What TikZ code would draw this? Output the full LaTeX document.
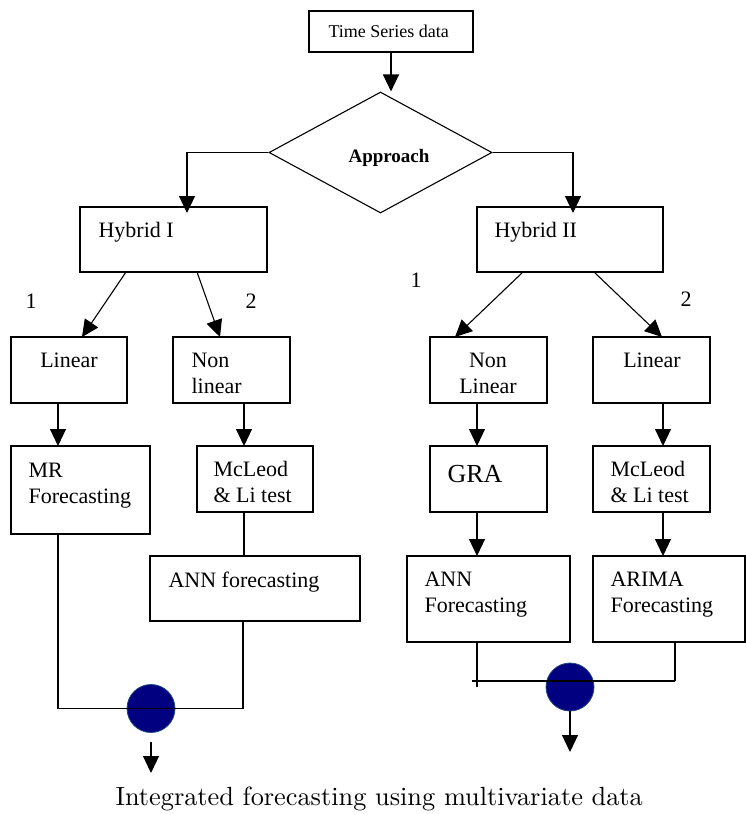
\documentclass[tikz,border=0pt]{standalone}
\usepackage{fontspec}
\newfontfamily\tnr{Liberation Serif}
\newfontfamily\capfont{lmroman10-regular}[Extension=.otf]
\usetikzlibrary{arrows.meta,shapes.geometric}

\definecolor{dotfill}{RGB}{0,0,128}
\definecolor{dotline}{RGB}{31,73,125}

\begin{document}
\begin{tikzpicture}[x=1pt,y=-1pt,line width=1.1pt,
    box/.style={draw,rectangle,inner sep=0pt,outer sep=0pt},
    txt/.style={inner sep=0pt,anchor=base west,align=left,font=\tnr\fontsize{22}{26}\selectfont},
    ctxt/.style={txt,anchor=base,align=center},
    arr/.style={-{Triangle[length=17pt,width=16pt]}},
    joindot/.style={circle,draw=dotline,fill=dotfill,line width=0.8pt,minimum size=48pt,inner sep=0pt}]
\useasboundingbox (0,0) rectangle (746,814);

% boxes
\node [box, minimum width=164pt, minimum height=41pt] (ts) at (391,31.5) {};
\node [diamond, draw, inner sep=0pt, minimum width=223pt, minimum height=121pt] (appr) at (380.5,152.5) {};
\node [box, minimum width=187pt, minimum height=65pt] (hyb1) at (173.5,239.5) {};
\node [box, minimum width=186pt, minimum height=65pt] (hyb2) at (570,239.5) {};
\node [box, minimum width=116pt, minimum height=66pt] (lin1) at (69,370) {};
\node [box, minimum width=117pt, minimum height=66pt] (nl1) at (231.5,370) {};
\node [box, minimum width=117pt, minimum height=66pt] (nl2) at (488.5,370) {};
\node [box, minimum width=117pt, minimum height=66pt] (lin2) at (651.5,370) {};
\node [box, minimum width=139pt, minimum height=88pt] (mr) at (80.5,490) {};
\node [box, minimum width=116pt, minimum height=66pt] (mcl1) at (255,479) {};
\node [box, minimum width=117pt, minimum height=66pt] (gra) at (488.5,479) {};
\node [box, minimum width=117pt, minimum height=66pt] (mcl2) at (651.5,479) {};
\node [box, minimum width=210pt, minimum height=65pt] (ann1) at (255,588.5) {};
\node [box, minimum width=163pt, minimum height=86pt] (ann2) at (488.5,599) {};
\node [box, minimum width=152pt, minimum height=86pt] (arima) at (669,599) {};

% joining dots
\node [joindot] (jn1) at (151,708.5) {};
\node [joindot] (jn2) at (570,687) {};
\coordinate (out1) at (151,773);
\coordinate (out2) at (570,752);
\coordinate (brl) at (472,681);
\coordinate (brr) at (675,681);

% texts
\node [txt, font=\tnr\fontsize{18}{22}\selectfont] (tstxt) at (328,37) {Time Series data};
\node [txt, font=\tnr\bfseries\fontsize{19}{22}\selectfont] (apprtxt) at (348,162) {Approach};
\node [txt] (hyb1txt) at (98,237) {Hybrid I};
\node [txt] (hyb2txt) at (494,237) {Hybrid II};
\node [ctxt] (lin1txt) at (69,367) {Linear};
\node [txt] (nl1txt) at (191,393) {Non\\linear};
\node [ctxt] (nl2txt) at (488,393) {Non\\Linear};
\node [ctxt] (lin2txt) at (652,367) {Linear};
\node [txt] (mrtxt) at (28,503) {MR\\Forecasting};
\node [txt] (mcl1txt) at (213,502) {McLeod\\\& Li test};
\node [txt, font=\tnr\fontsize{26}{30}\selectfont] (gratxt) at (447,482) {GRA};
\node [txt] (mcl2txt) at (610,502) {McLeod\\\& Li test};
\node [txt] (ann1txt) at (168,587) {ANN forecasting};
\node [txt] (ann2txt) at (424,612) {ANN\\Forecasting};
\node [txt] (arimatxt) at (610,612) {ARIMA\\Forecasting};

\node [txt] (n1a) at (25,308) {1};
\node [txt] (n2a) at (245,308) {2};
\node [txt] (n1b) at (410,287) {1};
\node [txt] (n2b) at (680,306) {2};

\node [inner sep=0pt, anchor=base west, font=\capfont\fontsize{26.3}{30}\selectfont] (capt) at (115,805) {Integrated forecasting using multivariate data};

% connectors
\draw [arr] (ts.south) -- (ts.south |- appr.north);
\draw [arr, shorten >=-6pt] (appr.west) -| ([xshift=107pt]hyb1.north west);
\draw [arr, shorten >=-6pt] (appr.east) -| ([xshift=96pt]hyb2.north west);

\draw [arr] ([xshift=46pt]hyb1.south west) -- ([xshift=71pt]lin1.north west);
\draw [arr] ([xshift=117pt]hyb1.south west) -- ([xshift=47pt]nl1.north west);
\draw [arr] ([xshift=46pt]hyb2.south west) -- ([xshift=25pt]nl2.north west);
\draw [arr] ([xshift=117pt]hyb2.south west) -- ([xshift=69pt]lin2.north west);

\draw [arr] ([xshift=47pt]lin1.south west) -- ([xshift=47pt]lin1.south west |- mr.north);
\draw [arr] ([xshift=71pt]nl1.south west) -- ([xshift=71pt]nl1.south west |- mcl1.north);
\draw ([xshift=47pt]mcl1.south west) -- ([xshift=47pt]mcl1.south west |- ann1.north);
\draw [arr] ([xshift=47pt]nl2.south west) -- ([xshift=47pt]nl2.south west |- gra.north);
\draw [arr] ([xshift=70pt]lin2.south west) -- ([xshift=70pt]lin2.south west |- mcl2.north);
\draw [arr] ([xshift=47pt]gra.south west) -- ([xshift=47pt]gra.south west |- ann2.north);
\draw [arr] ([xshift=70pt]mcl2.south west) -- ([xshift=70pt]mcl2.south west |- arima.north);

% left join
\draw ([xshift=47pt]mr.south west) |- ([xshift=93pt]ann1.south west |- jn1.center) -- ([xshift=93pt]ann1.south west);
\draw [arr] ([yshift=-9pt]jn1.south) -- (out1);

% right join
\draw (brl) -- (brr);
\draw ([xshift=70pt]ann2.south west) -- ++(0,45);
\draw ([xshift=82pt]arima.south west) -- (brr);
\draw [arr] (jn2.south) -- (out2);

\end{tikzpicture}
\end{document}
